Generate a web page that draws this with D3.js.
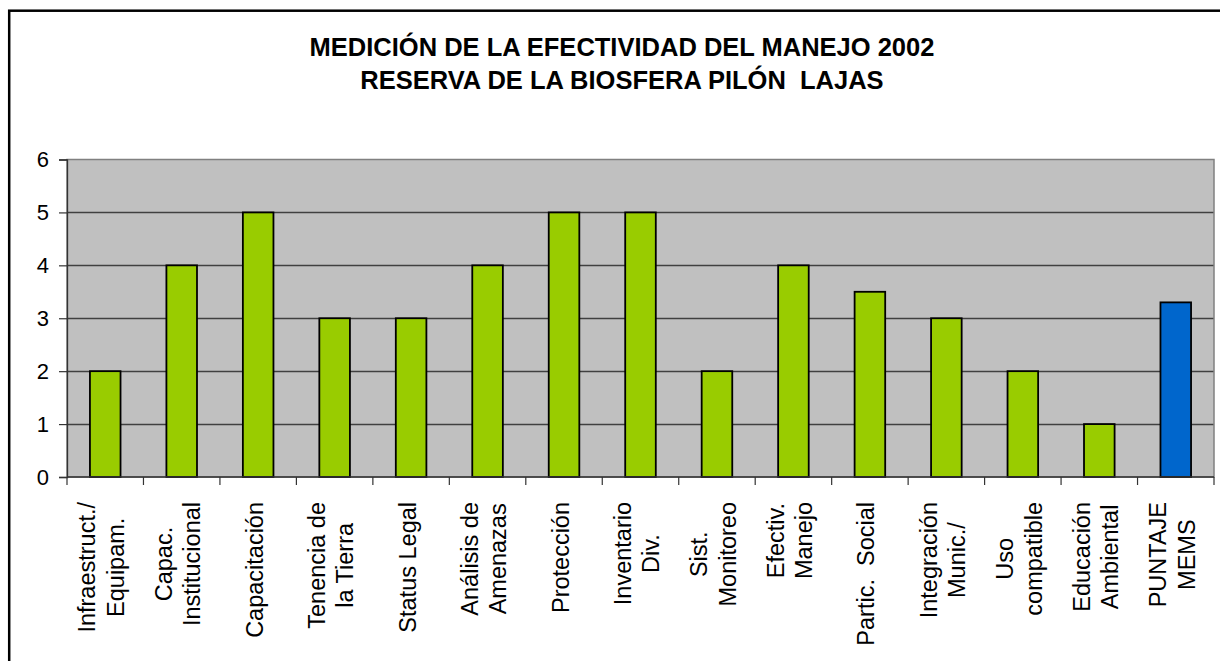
<!DOCTYPE html>
<html>
<head>
<meta charset="utf-8">
<script src="https://cdn.jsdelivr.net/npm/d3@7"></script>
<style>
  html, body { margin: 0; padding: 0; background: #fff; }
  svg { display: block; }
  text { white-space: pre; }
</style>
</head>
<body>
<svg id="chart" width="1220" height="661"></svg>
<script>
// ---- Data ----
const titleLines = ["MEDICIÓN DE LA EFECTIVIDAD DEL MANEJO 2002", "RESERVA DE LA BIOSFERA PILÓN  LAJAS"];
const categories = [
  "Infraestruct./\nEquipam.",
  "Capac.\nInstitucional",
  "Capacitación",
  "Tenencia de\nla Tierra",
  "Status Legal",
  "Análisis de\nAmenazas",
  "Protección",
  "Inventario\nDiv.",
  "Sist.\nMonitoreo",
  "Efectiv.\nManejo",
  "Partic.  Social",
  "Integración\nMunic./",
  "Uso\ncompatible",
  "Educación\nAmbiental",
  "PUNTAJE\nMEMS"
];
const values = [2, 4, 5, 3, 3, 4, 5, 5, 2, 4, 3.5, 3, 2, 1, 3.3];
const yTicks = [0, 1, 2, 3, 4, 5, 6];
const highlightCategory = "PUNTAJE\nMEMS";

// ---- Layout ----
const plot = { left: 67, right: 1214, top: 159.5, bottom: 477 };
const FONT = "'Liberation Sans', Arial, Helvetica, sans-serif";

const svg = d3.select("#chart");

// outer chart border (extends beyond the visible area on right/bottom)
svg.append("rect")
  .attr("x", 9.2).attr("y", 10.7)
  .attr("width", 1240).attr("height", 700)
  .attr("fill", "#fff").attr("stroke", "#000").attr("stroke-width", 2.5);

// title
const title = svg.append("text")
  .attr("text-anchor", "middle")
  .attr("font-family", FONT)
  .attr("font-weight", "bold")
  .attr("font-size", 25.5)
  .attr("fill", "#000");
titleLines.forEach((t, i) => {
  title.append("tspan").attr("x", 622).attr("y", 56 + i * 33.3).text(t);
});

// scales
const x = d3.scaleBand()
  .domain(categories)
  .range([plot.left, plot.right])
  .paddingInner(0.6)
  .paddingOuter(0.3);
const y = d3.scaleLinear().domain([0, 6]).range([plot.bottom, plot.top]);

// plot background
svg.append("rect")
  .attr("x", plot.left).attr("y", plot.top)
  .attr("width", plot.right - plot.left).attr("height", plot.bottom - plot.top)
  .attr("fill", "#C0C0C0");

// gridlines
svg.append("g")
  .selectAll("line")
  .data(yTicks.filter(d => d > 0 && d < 6))
  .join("line")
  .attr("x1", plot.left).attr("x2", plot.right)
  .attr("y1", d => Math.round(y(d)) + 0.5).attr("y2", d => Math.round(y(d)) + 0.5)
  .attr("stroke", "#404040").attr("stroke-width", 1.3);

// plot border (gray)
svg.append("rect")
  .attr("x", plot.left).attr("y", plot.top)
  .attr("width", plot.right - plot.left).attr("height", plot.bottom - plot.top)
  .attr("fill", "none").attr("stroke", "#808080").attr("stroke-width", 1.5);

// bars
svg.append("g")
  .selectAll("rect")
  .data(categories.map((c, i) => ({ c, v: values[i] })))
  .join("rect")
  .attr("x", d => x(d.c))
  .attr("width", x.bandwidth())
  .attr("y", d => y(d.v))
  .attr("height", d => y(0) - y(d.v))
  .attr("fill", d => d.c === highlightCategory ? "#0066CC" : "#99CC00")
  .attr("stroke", "#000").attr("stroke-width", 1.8);

// y axis
const yAxis = d3.axisLeft(y).tickValues(yTicks).tickSize(8).tickPadding(10).tickFormat(d3.format("d"));
const gy = svg.append("g").attr("transform", `translate(${plot.left},0)`).call(yAxis);
gy.select(".domain").attr("stroke", "#333").attr("stroke-width", 1.3);
gy.selectAll(".tick line").attr("stroke", "#333").attr("stroke-width", 1.2);
gy.selectAll(".tick text")
  .attr("font-family", FONT).attr("font-size", 22).attr("fill", "#000");

// x axis (ticks at category boundaries)
const boundaries = categories.map(c => x(c) - x.step() * x.paddingInner() / 2);
boundaries.push(plot.right);
const gx = svg.append("g");
gx.append("line")
  .attr("x1", plot.left).attr("x2", plot.right)
  .attr("y1", plot.bottom).attr("y2", plot.bottom)
  .attr("stroke", "#333").attr("stroke-width", 1.3);
gx.selectAll("line.tk")
  .data(boundaries)
  .join("line").attr("class", "tk")
  .attr("x1", d => d).attr("x2", d => d)
  .attr("y1", plot.bottom).attr("y2", plot.bottom + 8)
  .attr("stroke", "#333").attr("stroke-width", 1.2);

// category labels, rotated, lines centred, block ending near the axis
const labelTop = 502;
const lineH = 28.5;
const labelFont = 23.5;
categories.forEach(c => {
  const lines = c.split("\n");
  const cx = x(c) + x.bandwidth() / 2;
  const g = svg.append("g").attr("transform", `translate(${cx},${labelTop}) rotate(-90)`);
  const texts = lines.map((ln, i) => g.append("text")
    .attr("font-family", FONT).attr("font-size", labelFont).attr("fill", "#000")
    .attr("text-anchor", "middle")
    .attr("y", (i - (lines.length - 1) / 2) * lineH + 4.5)
    .text(ln));
  const maxLen = d3.max(texts, t => t.node().getComputedTextLength());
  texts.forEach(t => t.attr("x", -maxLen / 2));
});
</script>
</body>
</html>
